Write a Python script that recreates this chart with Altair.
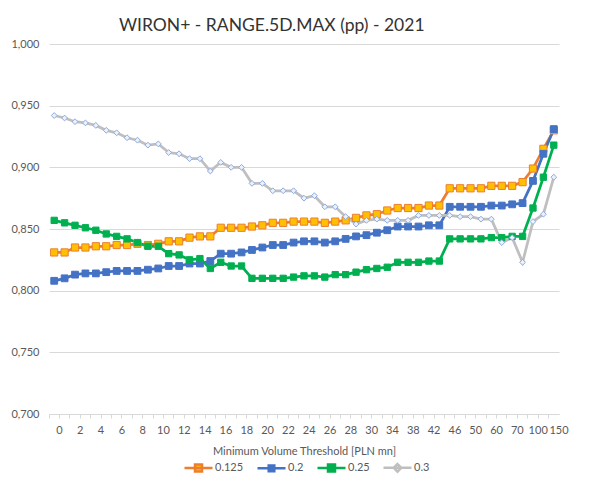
import altair as alt
import pandas as pd

categories = [str(i) for i in range(31)] + ["32", "34", "36", "38", "40", "42", "44", "46", "48", "50",
                                            "55", "60", "65", "70", "80", "100", "125", "150"]
shown_labels = categories[::2]

series_names = ["0.125", "0.2", "0.25", "0.3"]

s0125 = [0.831, 0.831, 0.835, 0.835, 0.836, 0.836, 0.837, 0.837, 0.838, 0.837,
         0.838, 0.840, 0.840, 0.843, 0.844, 0.844, 0.851, 0.851, 0.851, 0.852,
         0.853, 0.855, 0.855, 0.856, 0.856, 0.856, 0.855, 0.856, 0.857, 0.859,
         0.861, 0.862, 0.865, 0.867, 0.867, 0.867, 0.869, 0.869, 0.883, 0.883,
         0.883, 0.883, 0.885, 0.885, 0.885, 0.888, 0.899, 0.915, 0.930]
s02 = [0.808, 0.810, 0.813, 0.814, 0.814, 0.815, 0.816, 0.816, 0.816, 0.817,
       0.818, 0.820, 0.820, 0.822, 0.822, 0.824, 0.830, 0.830, 0.831, 0.833,
       0.835, 0.837, 0.837, 0.839, 0.840, 0.840, 0.839, 0.840, 0.842, 0.844,
       0.845, 0.847, 0.849, 0.852, 0.852, 0.852, 0.853, 0.853, 0.868, 0.868,
       0.868, 0.868, 0.869, 0.869, 0.870, 0.871, 0.889, 0.911, 0.931]
s025 = [0.857, 0.855, 0.853, 0.851, 0.849, 0.846, 0.844, 0.842, 0.839, 0.836,
        0.836, 0.830, 0.829, 0.825, 0.826, 0.818, 0.823, 0.820, 0.820, 0.810,
        0.810, 0.810, 0.810, 0.811, 0.812, 0.812, 0.811, 0.813, 0.813, 0.815,
        0.817, 0.818, 0.819, 0.823, 0.823, 0.823, 0.824, 0.824, 0.842, 0.842,
        0.842, 0.842, 0.843, 0.843, 0.844, 0.844, 0.867, 0.892, 0.918]
s03 = [0.942, 0.940, 0.937, 0.936, 0.934, 0.930, 0.928, 0.924, 0.922, 0.918,
       0.919, 0.912, 0.911, 0.907, 0.907, 0.897, 0.904, 0.900, 0.900, 0.887,
       0.887, 0.881, 0.881, 0.881, 0.875, 0.877, 0.868, 0.868, 0.860, 0.854,
       0.857, 0.858, 0.857, 0.857, 0.857, 0.861, 0.861, 0.861, 0.861, 0.860,
       0.860, 0.858, 0.858, 0.839, 0.843, 0.823, 0.856, 0.862, 0.892]

y_ticks = [0.70, 0.75, 0.80, 0.85, 0.90, 0.95, 1.00]

line_colors = ["#ED7D31", "#4472C4", "#00B050", "#BFBFBF"]
marker_strokes = ["#ED7D31", "#4472C4", "#00B050", "#8FAADC"]
marker_fills = ["#FFC000", "#4472C4", "#00B050", "#EAF1FB"]
marker_shapes = ["square", "square", "square", "diamond"]
marker_sizes = [52, 34, 56, 48]
legend_shapes = ["M-1,0H1M-0.25,-0.25H0.25V0.25H-0.25Z",
                 "M-1,0H1M-0.2,-0.2H0.2V0.2H-0.2Z",
                 "M-1,0H1M-0.25,-0.25H0.25V0.25H-0.25Z",
                 "M-1,0H1M0,-0.27L0.27,0L0,0.27L-0.27,0Z"]

rows = []
for name, vals in zip(series_names, [s0125, s02, s025, s03]):
    for i, (c, v) in enumerate(zip(categories, vals)):
        rows.append({"series": name, "cat": c, "idx": i, "value": v})
df = pd.DataFrame(rows)

FONT = "Lato"
TXT = "#595959"
GRID = "#D9D9D9"

label_list = "[" + ",".join("'" + s + "'" for s in shown_labels) + "]"
step = 510 / len(categories)

x_enc = alt.X(
    "cat:N",
    sort=categories,
    scale=alt.Scale(type="band", domain=categories, paddingInner=0, paddingOuter=0),
    bandPosition=0.5,
    axis=alt.Axis(
        title="Minimum Volume Threshold [PLN mn]",
        bandPosition=0,
        labelOffset=step / 2,
        labelAngle=0,
        labelExpr=f"indexof({label_list}, datum.label) >= 0 ? datum.label : ''",
        labelFont=FONT, labelFontSize=11, labelColor=TXT, labelPadding=6,
        labelOverlap=False,
        tickColor=GRID, tickSize=4, tickWidth=1,
        domainColor=GRID, domainWidth=1,
        titleFont=FONT, titleFontSize=11, titleColor=TXT, titleFontWeight="normal",
        titlePadding=10, grid=False,
    ),
)
y_enc = alt.Y(
    "value:Q",
    scale=alt.Scale(domain=[0.7, 1.0], nice=False, zero=False),
    axis=alt.Axis(
        title=None, values=y_ticks,
        labelExpr="replace(format(datum.value, '.3f'), '.', ',')",
        labelFont=FONT, labelFontSize=11, labelColor=TXT, labelPadding=10,
        domain=False, ticks=False, grid=True, gridColor=GRID, gridWidth=1,
    ),
)

legend_kw = dict(
    title=None, orient="none", direction="horizontal", legendX=134, legendY=408,
    labelFont=FONT, labelFontSize=11, labelColor=TXT,
    symbolSize=784, symbolStrokeWidth=2.5, labelOffset=1, columnPadding=8,
)

base = alt.Chart(df)

lines = base.mark_line(strokeWidth=2.75).encode(
    x=x_enc, y=y_enc,
    stroke=alt.Stroke("series:N", scale=alt.Scale(domain=series_names, range=line_colors), legend=None),
    detail="series:N",
)

markers = base.mark_point(filled=True, opacity=1, strokeWidth=1).encode(
    x=x_enc, y=y_enc,
    stroke=alt.Stroke("series:N", scale=alt.Scale(domain=series_names, range=marker_strokes), legend=None),
    fill=alt.Fill("series:N", scale=alt.Scale(domain=series_names, range=marker_fills), legend=None),
    shape=alt.Shape("series:N", scale=alt.Scale(domain=series_names, range=marker_shapes), legend=None),
    size=alt.Size("series:N", scale=alt.Scale(domain=series_names, range=marker_sizes), legend=None),
)

legend_layer = base.transform_filter("false").mark_point(filled=True, opacity=1).encode(
    x=x_enc, y=y_enc,
    stroke=alt.Stroke("series:N", scale=alt.Scale(domain=series_names, range=line_colors), legend=alt.Legend(**legend_kw)),
    fill=alt.Fill("series:N", scale=alt.Scale(domain=series_names, range=marker_fills), legend=alt.Legend(**legend_kw)),
    shape=alt.Shape("series:N", scale=alt.Scale(domain=series_names, range=legend_shapes), legend=alt.Legend(**legend_kw)),
)

chart = alt.layer(lines, markers, legend_layer).resolve_scale(
    stroke="independent", fill="independent", shape="independent", size="independent"
).properties(
    width=510, height=370,
    title=alt.TitleParams(
        "WIRON+ - RANGE.5D.MAX (pp)  - 2021", anchor="start", frame="group", dx=70,
        offset=4, font=FONT, fontSize=17.5, fontWeight="normal", color="#333333",
    ),
    autosize=alt.AutoSizeParams(type="none"),
    padding={"left": 41, "top": 36, "right": 20, "bottom": 68},
).configure_view(stroke=None)

chart.save("out.html", embed_options={"renderer": "svg", "actions": False})
